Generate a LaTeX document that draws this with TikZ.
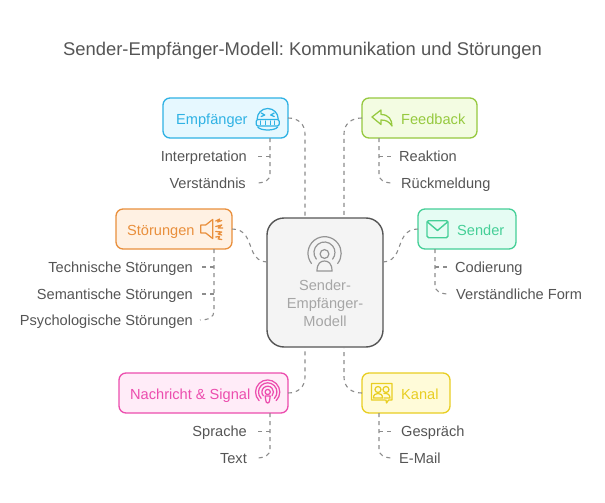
\documentclass[tikz,border=0pt]{standalone}
\usepackage{fontspec}
\setmainfont{Liberation Sans}
\frenchspacing
\definecolor{cEmpS}{HTML}{2FB2E4}\definecolor{cEmpF}{HTML}{E6F8FF}
\definecolor{cFeeS}{HTML}{96C93F}\definecolor{cFeeF}{HTML}{F3FCE2}
\definecolor{cStoS}{HTML}{E98F3C}\definecolor{cStoF}{HTML}{FFF1E3}
\definecolor{cSenS}{HTML}{45CF97}\definecolor{cSenF}{HTML}{E5FCF3}
\definecolor{cNacS}{HTML}{EC4DAE}\definecolor{cNacF}{HTML}{FFECF8}
\definecolor{cKanS}{HTML}{E8CE22}\definecolor{cKanF}{HTML}{FFFBD9}
\definecolor{cCen}{HTML}{555555}\definecolor{cCenF}{HTML}{F4F4F4}
\definecolor{cCenT}{HTML}{A6A6A6}\definecolor{cLab}{HTML}{555555}
\definecolor{cDash}{HTML}{8C8C8C}
\tikzset{
 box/.style={draw=#1S,fill=#1F,line width=1.3pt,rounded corners=7pt,minimum height=40pt,inner sep=0pt,outer sep=0pt},
 head/.style={text=#1S,font=\fontsize{14.6}{16}\selectfont,inner sep=0pt,anchor=base west},
 lab/.style={text=cLab,font=\fontsize{14.6}{16}\selectfont,inner sep=0pt},
 labr/.style={lab,anchor=base east},
 labl/.style={lab,anchor=base west},
 conn/.style={draw=cDash,line width=1.1pt,dash pattern=on 4pt off 4pt},
 ico/.style={draw=#1S,line width=1.25pt,line cap=round,line join=round},
}
\begin{document}
\begin{tikzpicture}[x=1pt,y=-1pt]
\useasboundingbox[fill=white] (0,0) rectangle (605,503);
\node[text=cLab,font=\fontsize{18.4}{20}\selectfont,inner sep=0pt,anchor=base] (title) at (302.5,56) {Sender-Empfänger-Modell: Kommunikation und Störungen};

\node[draw=cCen,fill=cCenF,line width=1.4pt,rounded corners=17pt,minimum width=116pt,minimum height=129pt,inner sep=0pt,outer sep=0pt] (center) at (325,282.5) {};
\node[box=cEmp,minimum width=125pt] (emp) at (225.5,118) {};
\node[box=cFee,minimum width=115pt] (fee) at (419.5,118) {};
\node[box=cSto,minimum width=116pt] (sto) at (174,229) {};
\node[box=cSen,minimum width=98pt] (sen) at (467,229) {};
\node[box=cNac,minimum width=169pt] (nac) at (203.5,393) {};
\node[box=cKan,minimum width=88pt] (kan) at (406,393) {};

\node[head=cEmp] (empT) at (176,124) {Empfänger};
\node[head=cFee] (feeT) at (401,124) {Feedback};
\node[head=cSto] (stoT) at (127,235) {Störungen};
\node[head=cSen] (senT) at (457,235) {Sender};
\node[head=cNac] (nacT) at (130,399) {Nachricht \& Signal};
\node[head=cKan] (kanT) at (401,399) {Kanal};

\node[labr] (l1) at (247,161.5) {Interpretation};
\node[labr] (l2) at (246,188) {Verständnis};
\node[labl] (l3) at (399,161.5) {Reaktion};
\node[labl] (l4) at (401,188) {Rückmeldung};
\node[labr] (l5) at (193,272) {Technische Störungen};
\node[labr] (l6) at (193,299) {Semantische Störungen};
\node[labr] (l7) at (193,325) {Psychologische Störungen};
\node[labl] (l8) at (455,272) {Codierung};
\node[labl] (l9) at (456,299) {Verständliche Form};
\node[labr] (l10) at (247,436.5) {Sprache};
\node[labr] (l11) at (247,463) {Text};
\node[labl] (l12) at (401,436.5) {Gespräch};
\node[labl] (l13) at (399,463) {E-Mail};

\node[text=cCenT,font=\fontsize{14.6}{18}\selectfont,align=center,inner sep=0pt,anchor=north] (cenT) at (325,279.5) {Sender-\\Empfänger-\\Modell};

% main connectors
\draw[conn] (emp.east) .. controls (298,118) and (305,124) .. (305,134) -- (305,218);
\draw[conn] (fee.west) .. controls (351,118) and (344,124) .. (344,134) -- (344,218);
\draw[conn] (sto.east) .. controls (246,229) and (248,240) .. (252,250) .. controls (255,258) and (260,262) .. (267,262);
\draw[conn] (sen.west) .. controls (404,229) and (402,240) .. (398,250) .. controls (395,258) and (390,262) .. (383,262);
\draw[conn] (nac.east) .. controls (298,393) and (305,387) .. (305,377) -- (305,347);
\draw[conn] (kan.west) .. controls (351,393) and (344,387) .. (344,377) -- (344,347);

% sub connectors: one trunk, branches leave it
\coordinate (a0) at (270,138); \coordinate (a1) at (270,156.5);
\draw[conn] (a0) -- (270,174) .. controls (270,180) and (265,183) .. (256,183);
\draw[conn] (a1) -- (256,156.5);
\coordinate (b0) at (379,138); \coordinate (b1) at (379,156.5);
\draw[conn] (b0) -- (379,174) .. controls (379,180) and (384,183) .. (393,183);
\draw[conn] (b1) -- (393,156.5);
\coordinate (c0) at (214,249); \coordinate (c1) at (214,267); \coordinate (c2) at (214,294);
\draw[conn] (c0) -- (214,311) .. controls (214,317) and (209,320) .. (200,320);
\draw[conn] (c1) -- (200,267);
\draw[conn] (c2) -- (200,294);
\coordinate (d0) at (435,249); \coordinate (d1) at (435,267);
\draw[conn] (d0) -- (435,285) .. controls (435,291) and (440,294) .. (449,294);
\draw[conn] (d1) -- (449,267);
\coordinate (e0) at (270,413); \coordinate (e1) at (270,431.5);
\draw[conn] (e0) -- (270,449) .. controls (270,455) and (265,458) .. (256,458);
\draw[conn] (e1) -- (256,431.5);
\coordinate (f0) at (379,413); \coordinate (f1) at (379,431.5);
\draw[conn] (f0) -- (379,449) .. controls (379,455) and (384,458) .. (393,458);
\draw[conn] (f1) -- (393,431.5);

% center icon
\begin{scope}[shift={(324.5,252.5)},draw=cCenT!90!black,line width=1.2pt,line cap=round]
 \draw (0,1.5) circle (4.4);
 \draw (-7.5,18.5) -- (7.5,18.5) .. controls (7.5,11) and (4,8.5) .. (0,8.5) .. controls (-4,8.5) and (-7.5,11) .. (-7.5,18.5) -- cycle;
 \draw (-8.2,6.6) arc[start angle=141,end angle=399,radius=10.5];
 \draw (-13,11) arc[start angle=142,end angle=398,radius=16.6];
\end{scope}

% Empfaenger face
\begin{scope}[shift={(267.7,119)},ico=cEmp]
 \draw (-10.5,0) arc[start angle=180,end angle=360,radius=10.5];
 \draw (-6.5,-6) -- (-3,-4) -- (-6.5,-2.5);
 \draw (6.5,-6) -- (3,-4) -- (6.5,-2.5);
 \draw[fill=cEmpF,rounded corners=2pt] (-11.5,0.5) rectangle (11.5,7);
 \draw (-7,2) -- (-7,5.5) (-2.5,2) -- (-2.5,5.5) (2.5,2) -- (2.5,5.5) (7,2) -- (7,5.5);
 \draw (-10,8) .. controls (-7,12) and (7,12) .. (10,8);
\end{scope}

% Feedback arrow
\begin{scope}[shift={(382,118)},ico=cFee]
 \draw (-10,-1) -- (-1,-8) -- (-1,-3.5) .. controls (7,-3.5) and (10,2) .. (10,8) .. controls (7,3.5) and (4,2) .. (-1,2) -- (-1,6.5) -- cycle;
\end{scope}

% Stoerungen speaker
\begin{scope}[shift={(200.7,229)},ico=cSto]
 \draw (0,-4) -- (5,-4) -- (12,-9.5) -- (12,9.5) -- (5,4) -- (0,4) -- cycle;
 \draw (15,-8) -- (19,-10) -- (17,-7) -- (21,-8.5);
 \draw (15,-2.5) -- (21,-4) -- (17.5,-1) -- (22,-1);
 \draw (15,2.5) -- (21,3) -- (17.5,5) -- (21,6);
 \draw (15,8) -- (19,7.5) -- (17.5,10) -- (21,10.5);
\end{scope}

% Sender envelope
\begin{scope}[ico=cSen,line width=1.4pt]
 \draw[rounded corners=1.5pt] (427,220.7) rectangle (448,237.7);
 \draw (427.5,222) -- (437.5,230.5) -- (447.5,222);
\end{scope}

% Nachricht icon
\begin{scope}[shift={(267.7,392)},ico=cNac]
 \draw (0,0) circle (2.6);
 \draw (-4.4,3.8) arc[start angle=139,end angle=401,radius=5.8];
 \draw (-6.6,6.4) arc[start angle=136,end angle=404,radius=9.2];
 \draw (-8.6,8.6) arc[start angle=135,end angle=405,radius=12.1];
 \draw (-2.5,4) -- (2.5,4) -- (2,8) .. controls (2,12) and (-2,12) .. (-2,8) -- cycle;
\end{scope}

% Kanal icon
\begin{scope}[ico=cKan]
 \draw (385,400) -- (371.5,400) -- (371.5,383.5) -- (392,383.5) -- (392,400) -- (388.5,400) -- (386.5,403) -- (386,400);
 \draw (378,389.5) circle (3);
 \draw (386,389.5) circle (3);
 \draw (373.5,398) .. controls (373.5,394.5) and (375.5,393.5) .. (378,393.5) .. controls (380.5,393.5) and (382.5,394.5) .. (382.5,398) -- cycle;
 \draw (384,393.5) .. controls (387.5,393) and (390,394.5) .. (390,398) -- (384,398);
\end{scope}
\end{tikzpicture}
\end{document}
